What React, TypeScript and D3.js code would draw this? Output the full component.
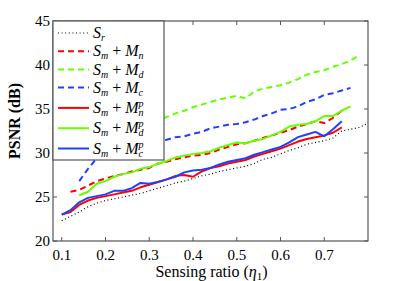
import React from "react";
import * as d3 from "d3";

// sensing ratios, step 0.02
const ratioFull = d3.range(0.1, 0.801, 0.02).map((v) => +v.toFixed(2));

const srValues = [22.3, 22.8, 23.3, 23.9, 24.3, 24.6, 24.8, 25.0, 25.2, 25.4, 25.7, 26.0, 26.3, 26.6, 26.8, 27.1, 27.4, 27.6, 27.9, 28.1, 28.3, 28.5, 28.8, 29.3, 29.5, 29.9, 30.3, 30.6, 31.0, 31.2, 31.4, 31.7, 32.5, 32.7, 32.9, 33.4];
const mnValues = [25.6, 25.8, 26.3, 26.8, 27.1, 27.4, 27.6, 27.9, 28.1, 28.3, 28.8, 29.0, 29.3, 29.5, 29.7, 29.8, 30.0, 30.4, 30.7, 31.0, 31.1, 31.4, 31.7, 32.0, 32.3, 32.6, 33.0, 33.3, 33.6, 33.4, 34.0, 34.8];
const mdValues = [30.4, 31.0, 31.5, 31.9, 32.3, 32.6, 32.9, 33.2, 33.5, 33.8, 34.1, 34.5, 34.8, 35.2, 35.5, 35.8, 36.1, 36.3, 36.5, 36.2, 37.0, 37.3, 37.5, 37.7, 38.0, 38.4, 38.9, 39.2, 39.4, 39.8, 40.1, 40.5, 41.1];
const mcValues = [26.8, 28.2, 29.4, 30.0, 30.3, 30.5, 30.7, 30.9, 31.1, 31.3, 31.5, 31.8, 31.9, 32.2, 32.4, 32.8, 33.0, 33.2, 33.3, 33.5, 33.8, 34.2, 34.5, 34.9, 35.0, 35.3, 35.8, 36.1, 36.6, 36.8, 37.1, 37.4];
const mnpValues = [23.0, 23.3, 24.1, 24.6, 24.9, 25.1, 25.3, 25.5, 25.7, 26.1, 26.4, 26.7, 27.0, 27.4, 27.5, 27.3, 27.9, 28.3, 28.5, 28.8, 29.0, 29.2, 29.6, 29.9, 30.2, 30.5, 30.9, 31.3, 31.6, 31.8, 32.0, 32.3, 32.9];
const mdpValues = [25.2, 25.6, 26.5, 26.8, 27.3, 27.6, 27.8, 28.2, 28.4, 28.8, 29.1, 29.5, 29.7, 29.9, 30.0, 30.2, 30.6, 30.9, 31.2, 31.1, 31.4, 31.6, 32.0, 32.4, 33.0, 33.2, 33.3, 33.6, 34.2, 34.2, 34.8, 35.3];
const mcpValues = [23.0, 23.5, 24.4, 24.9, 25.1, 25.3, 25.7, 25.7, 26.0, 26.6, 26.5, 26.7, 27.0, 27.3, 27.8, 28.0, 28.1, 28.3, 28.7, 29.0, 29.2, 29.4, 29.8, 30.1, 30.4, 30.7, 31.2, 31.8, 32.1, 32.4, 31.9, 32.7, 33.6];

// first ratio of each series
const startRatio = [0.1, 0.12, 0.14, 0.14, 0.1, 0.14, 0.1];

const xTicks = [0.1, 0.2, 0.3, 0.4, 0.5, 0.6, 0.7];
const yTicks = [20, 25, 30, 35, 40, 45];

type Series = {
  values: number[];
  start: number;
  color: string;
  dash: string | null;
  width: number;
  label: [string, string, string | null]; // main, subscript, superscript
};

const seriesList: Series[] = [
  { values: srValues, start: startRatio[0], color: "#000", dash: "1,2.6", width: 1.2, label: ["S", "r", null] },
  { values: mnValues, start: startRatio[1], color: "#ff0000", dash: "6,4", width: 2, label: ["M", "n", null] },
  { values: mdValues, start: startRatio[2], color: "#66ff00", dash: "6,4", width: 2, label: ["M", "d", null] },
  { values: mcValues, start: startRatio[3], color: "#2040ff", dash: "6,4", width: 2, label: ["M", "c", null] },
  { values: mnpValues, start: startRatio[4], color: "#ff0000", dash: null, width: 2, label: ["M", "n", "p"] },
  { values: mdpValues, start: startRatio[5], color: "#66ff00", dash: null, width: 2, label: ["M", "d", "p"] },
  { values: mcpValues, start: startRatio[6], color: "#2040ff", dash: null, width: 2, label: ["M", "c", "p"] },
];

const W = 407;
const H = 281;
const margin = { top: 21, right: 39, bottom: 40, left: 53 };
const font = "'Times New Roman', 'Liberation Serif', Tinos, 'DejaVu Serif', serif";

export default function App() {
  const innerW = W - margin.left - margin.right;
  const innerH = H - margin.top - margin.bottom;

  const xScale = d3.scaleLinear().domain([0.08, 0.8]).range([0, innerW]);
  const yScale = d3.scaleLinear().domain([20, 45]).range([innerH, 0]);

  const lineGen = d3
    .line<[number, number]>()
    .x((d) => xScale(d[0]))
    .y((d) => yScale(d[1]));

  const pathFor = (s: Series) => {
    const i0 = ratioFull.indexOf(s.start);
    const pts: [number, number][] = s.values.map((v, i) => [ratioFull[i0 + i], v]);
    return lineGen(pts) || "";
  };

  // legend layout
  const legW = 111;
  const legH = 139;
  const rowY = (i: number) => (i < 4 ? 12 + i * 18.2 : 66.6 + (i - 3) * 20.3);

  const axisColor = "#555";

  return (
    <svg
      width={W}
      height={H}
      style={{ position: "absolute", left: 0, top: 0, background: "#fff" }}
    >
      <style>{`text { font-family: ${font}; }`}</style>
      <defs>
        <clipPath id="plotClip">
          <rect x={0} y={0} width={innerW} height={innerH} />
        </clipPath>
      </defs>
      <g transform={`translate(${margin.left},${margin.top})`}>
        {/* series */}
        <g clipPath="url(#plotClip)">
          {seriesList.map((s, i) => (
            <path
              key={i}
              d={pathFor(s)}
              fill="none"
              stroke={s.color}
              strokeWidth={s.width}
              strokeDasharray={s.dash || undefined}
              strokeLinejoin="round"
            />
          ))}
        </g>

        {/* frame */}
        <rect x={0} y={0} width={innerW} height={innerH} fill="none" stroke={axisColor} strokeWidth={1.2} />

        {/* x ticks */}
        {xTicks.map((t) => (
          <g key={t} transform={`translate(${xScale(t)},0)`}>
            <line y1={innerH} y2={innerH - 4} stroke={axisColor} />
            <line y1={0} y2={4} stroke={axisColor} />
            <text y={innerH + 19} textAnchor="middle" fontSize={15} fill="#000">
              {t.toFixed(1)}
            </text>
          </g>
        ))}

        {/* y ticks */}
        {yTicks.map((t) => (
          <g key={t} transform={`translate(0,${yScale(t)})`}>
            <line x1={0} x2={4} stroke={axisColor} />
            <line x1={innerW} x2={innerW - 4} stroke={axisColor} />
            <text x={-3} dy="0.35em" textAnchor="end" fontSize={15} fill="#000">
              {t}
            </text>
          </g>
        ))}

        {/* axis labels */}
        <text x={innerW / 2 + 1} y={innerH + 36} textAnchor="middle" fontSize={16} fill="#000">
          Sensing ratio (<tspan fontStyle="italic">η</tspan>
          <tspan fontSize={11} dy={3}>1</tspan>
          <tspan dy={-3}>)</tspan>
        </text>
        <text
          transform={`translate(${-33},${innerH / 2 - 10}) rotate(-90)`}
          textAnchor="middle"
          fontSize={16}
          fontWeight="bold"
          fill="#000"
        >
          PSNR (dB)
        </text>

        {/* legend */}
        <g>
          <rect x={0} y={0} width={legW} height={legH} fill="#fff" stroke={axisColor} strokeWidth={1.2} />
          {seriesList.map((s, i) => {
            const y = rowY(i);
            const [main, sub, sup] = s.label;
            return (
              <g key={i} transform={`translate(0,${y})`}>
                <line
                  x1={5}
                  x2={36}
                  stroke={s.color}
                  strokeWidth={s.width}
                  strokeDasharray={s.dash || undefined}
                />
                <text x={40} dy="0.33em" fontSize={16} fill="#000">
                  {i === 0 ? (
                    <>
                      <tspan fontStyle="italic">S</tspan>
                      <tspan fontStyle="italic" fontSize={10} dy={3}>{sub}</tspan>
                    </>
                  ) : (
                    <>
                      <tspan fontStyle="italic">S</tspan>
                      <tspan fontStyle="italic" fontSize={10} dy={3}>m</tspan>
                      <tspan dy={-3}> + </tspan>
                      <tspan fontStyle="italic">{main}</tspan>
                      {sup ? (
                        <>
                          <tspan fontStyle="italic" fontSize={10} dy={-6}>{sup}</tspan>
                          <tspan fontStyle="italic" fontSize={10} dx={-5} dy={9}>{sub}</tspan>
                        </>
                      ) : (
                        <tspan fontStyle="italic" fontSize={10} dy={3}>{sub}</tspan>
                      )}
                    </>
                  )}
                </text>
              </g>
            );
          })}
        </g>
      </g>
    </svg>
  );
}
